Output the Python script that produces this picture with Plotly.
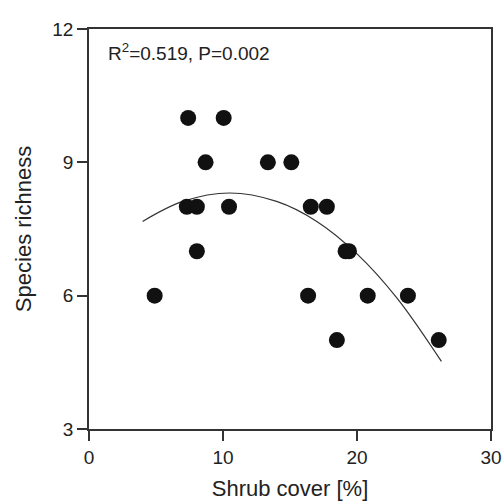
import plotly.graph_objects as go

# shrub cover (%) vs species richness
shrub = [4.9, 7.3, 7.4, 8.05, 8.05, 8.7, 10.05, 10.45, 13.35, 15.1,
         16.35, 16.55, 17.75, 18.5, 19.15, 19.4, 20.8, 23.8, 26.1]
richness = [6, 8, 10, 8, 7, 9, 10, 8, 9, 9,
            6, 8, 8, 5, 7, 7, 6, 6, 5]

# quadratic fit line
fit_x = [4.0, 7.0, 10.5, 14.0, 17.0, 20.0, 23.0, 26.3]
fit_y = [7.67, 8.12, 8.31, 8.12, 7.67, 6.94, 5.94, 4.52]

xticks = [0, 10, 20, 30]
yticks = [3, 6, 9, 12]

fnt = "Liberation Sans, Arial, sans-serif"
ink = "#222222"

fig = go.Figure()
fig.add_trace(go.Scatter(x=fit_x, y=fit_y, mode="lines", line=dict(color="#333333", width=1.2, shape="spline"),
                         showlegend=False, hoverinfo="skip"))
fig.add_trace(go.Scatter(x=shrub, y=richness, mode="markers",
                         marker=dict(size=16, color="#111111", line=dict(width=0)), showlegend=False))

fig.add_annotation(text="R<sup>2</sup>=0.519, P=0.002", xref="paper", yref="paper", x=0.043, y=0.943,
                   xanchor="left", yanchor="middle", showarrow=False, font=dict(family=fnt, size=19, color=ink))

axis_common = dict(showgrid=False, zeroline=False, showline=True, linecolor="#333333", linewidth=1.5,
                   mirror=True, ticks="outside", ticklen=10, tickwidth=1.5, tickcolor="#333333",
                   automargin=False, tickfont=dict(family=fnt, size=19, color=ink))

fig.update_xaxes(range=[0, 30], tickvals=xticks,
                 title=dict(text="Shrub cover [%]", font=dict(family=fnt, size=22, color=ink)),
                 **axis_common)
fig.update_yaxes(range=[3, 12], tickvals=yticks,
                 title=dict(text="Species richness", font=dict(family=fnt, size=22, color=ink)),
                 **axis_common)

fig.update_layout(width=503, height=501, margin=dict(l=89, r=12, t=29, b=72),
                  paper_bgcolor="white", plot_bgcolor="white")

# page body has a default 8px margin; drop it so the figure sits at the corner
fig.write_html("out.html", config={"displayModeBar": False},
               post_script="document.body.style.margin='0';")
